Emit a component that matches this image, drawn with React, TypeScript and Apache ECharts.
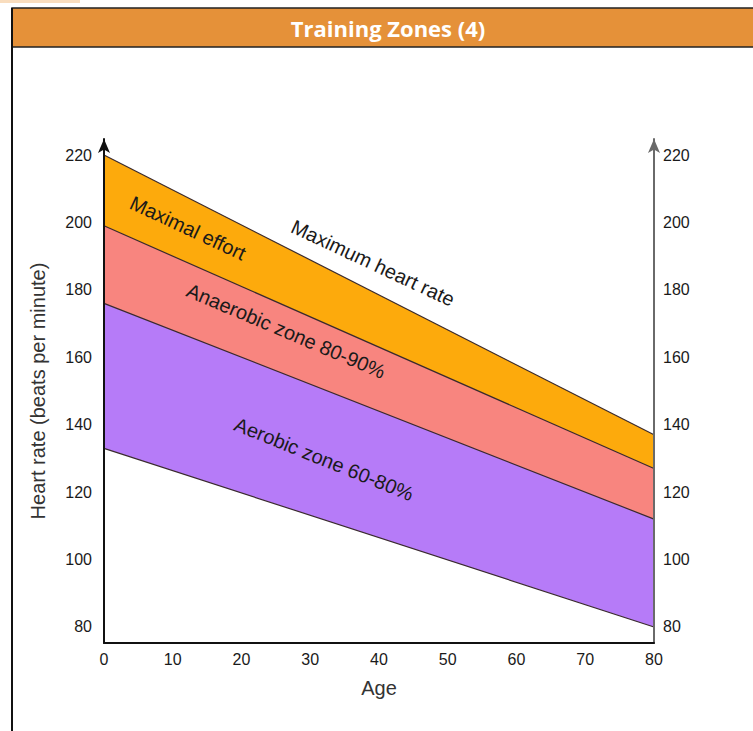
import React, { useEffect, useRef } from "react";
import * as echarts from "echarts";

const chartTitle = "Training Zones (4)";
const xAxisName = "Age";
const yAxisName = "Heart rate (beats per minute)";

const ages = [0, 80];
const maxHeartRate = [220, 137];
const anaerobicTop = [199, 127];
const aerobicTop = [176, 112];
const aerobicBottom = [133, 80];

const yTickValues = [80, 100, 120, 140, 160, 180, 200, 220];

const zoneLabels = ["Maximal effort", "Maximum heart rate", "Anaerobic zone 80-90%", "Aerobic zone 60-80%"];

const BG = "#ffffff";
const LINE = "#3a2a2e";
const FONT = "'Liberation Sans', Arial, sans-serif";

function toPairs(ys: number[]) {
  return ages.map((a, i) => [a, ys[i]]);
}

export default function App() {
  const ref = useRef<HTMLDivElement>(null);
  useEffect(() => {
    if (!ref.current) return;
    const chart = echarts.init(ref.current, undefined, { renderer: "svg" });
    const deg = Math.PI / 180;
    const zoneSeries = (name: string, ys: number[], fill: string) => ({
      name,
      type: "line",
      data: toPairs(ys),
      showSymbol: false,
      symbol: "none",
      silent: true,
      lineStyle: { color: LINE, width: 1.2 },
      areaStyle: { color: fill, opacity: 1, origin: "start" },
    });
    const yAxisBase = {
      type: "value",
      min: 75.25,
      max: 224.75,
      splitLine: { show: false },
      axisTick: { show: false },
      z: 10,
    };
    const tickLabel = { color: "#1a1a1a", fontSize: 16, fontFamily: FONT };
    chart.setOption({
      animation: false,
      backgroundColor: "#ffffff",
      grid: { left: 104, right: 99, top: 139, bottom: 88, containLabel: false },
      xAxis: {
        type: "value",
        min: 0,
        max: 80,
        interval: 10,
        z: 10,
        splitLine: { show: false },
        axisTick: { show: false },
        axisLine: { lineStyle: { color: "#111", width: 2 } },
        axisLabel: { ...tickLabel, margin: 8 },
        name: xAxisName,
        nameLocation: "middle",
        nameGap: 35,
        nameTextStyle: { color: "#333", fontSize: 20, fontFamily: FONT },
      },
      yAxis: [
        {
          ...yAxisBase,
          position: "left",
          axisLine: {
            show: true,
            symbol: ["none", "arrow"],
            symbolSize: [9, 14],
            lineStyle: { color: "#111", width: 2 },
          },
          axisLabel: { ...tickLabel, margin: 12, customValues: yTickValues },
          name: yAxisName,
          nameLocation: "middle",
          nameGap: 56,
          nameRotate: 90,
          nameTextStyle: { color: "#333", fontSize: 20, fontFamily: FONT },
        },
        {
          ...yAxisBase,
          position: "right",
          axisLine: {
            show: true,
            symbol: ["none", "arrow"],
            symbolSize: [9, 14],
            lineStyle: { color: "#6a6a6a", width: 2 },
          },
          axisLabel: { ...tickLabel, margin: 9, customValues: yTickValues },
        },
      ],
      series: [
        zoneSeries("Maximum heart rate", maxHeartRate, "#FDAA0C"),
        zoneSeries("Anaerobic 90%", anaerobicTop, "#F8857F"),
        zoneSeries("Aerobic 80%", aerobicTop, "#B67BF8"),
        zoneSeries("Aerobic 60%", aerobicBottom, BG),
      ],
      graphic: [
        { type: "rect", z: 0, shape: { x: 0, y: 0, width: 80, height: 3 }, style: { fill: "#F9DDBE" } },
        {
          type: "rect",
          z: 100,
          shape: { x: 12, y: 8, width: 745, height: 39 },
          style: { fill: "#E59139", stroke: "#222", lineWidth: 1.5 },
        },
        {
          type: "text",
          z: 101,
          x: 388,
          y: 28,
          style: {
            text: chartTitle,
            fill: "#ffffff",
            font: "bold 22px 'Open Sans', sans-serif",
            align: "center",
            verticalAlign: "middle",
            textAlign: "center",
            textVerticalAlign: "middle",
          },
        },
        {
          type: "line",
          z: 100,
          shape: { x1: 12, y1: 8, x2: 12, y2: 731 },
          style: { stroke: "#111", lineWidth: 2 },
        },
        ...[
          { t: zoneLabels[0], x: 188, y: 228, a: 25 },
          { t: zoneLabels[1], x: 373, y: 263, a: 25 },
          { t: zoneLabels[2], x: 286, y: 331, a: 23 },
          { t: zoneLabels[3], x: 324, y: 459, a: 22 },
        ].map((l) => ({
          type: "text",
          z: 100,
          x: l.x,
          y: l.y,
          rotation: -l.a * deg,
          style: {
            text: l.t,
            fill: "#1a1a1a",
            font: `20px ${FONT}`,
            align: "center",
            verticalAlign: "middle",
            textAlign: "center",
            textVerticalAlign: "middle",
          },
        })),
      ],
    });
    return () => chart.dispose();
  }, []);
  return <div ref={ref} style={{ position: "fixed", left: 0, top: 0, width: 753, height: 731 }} />;
}
